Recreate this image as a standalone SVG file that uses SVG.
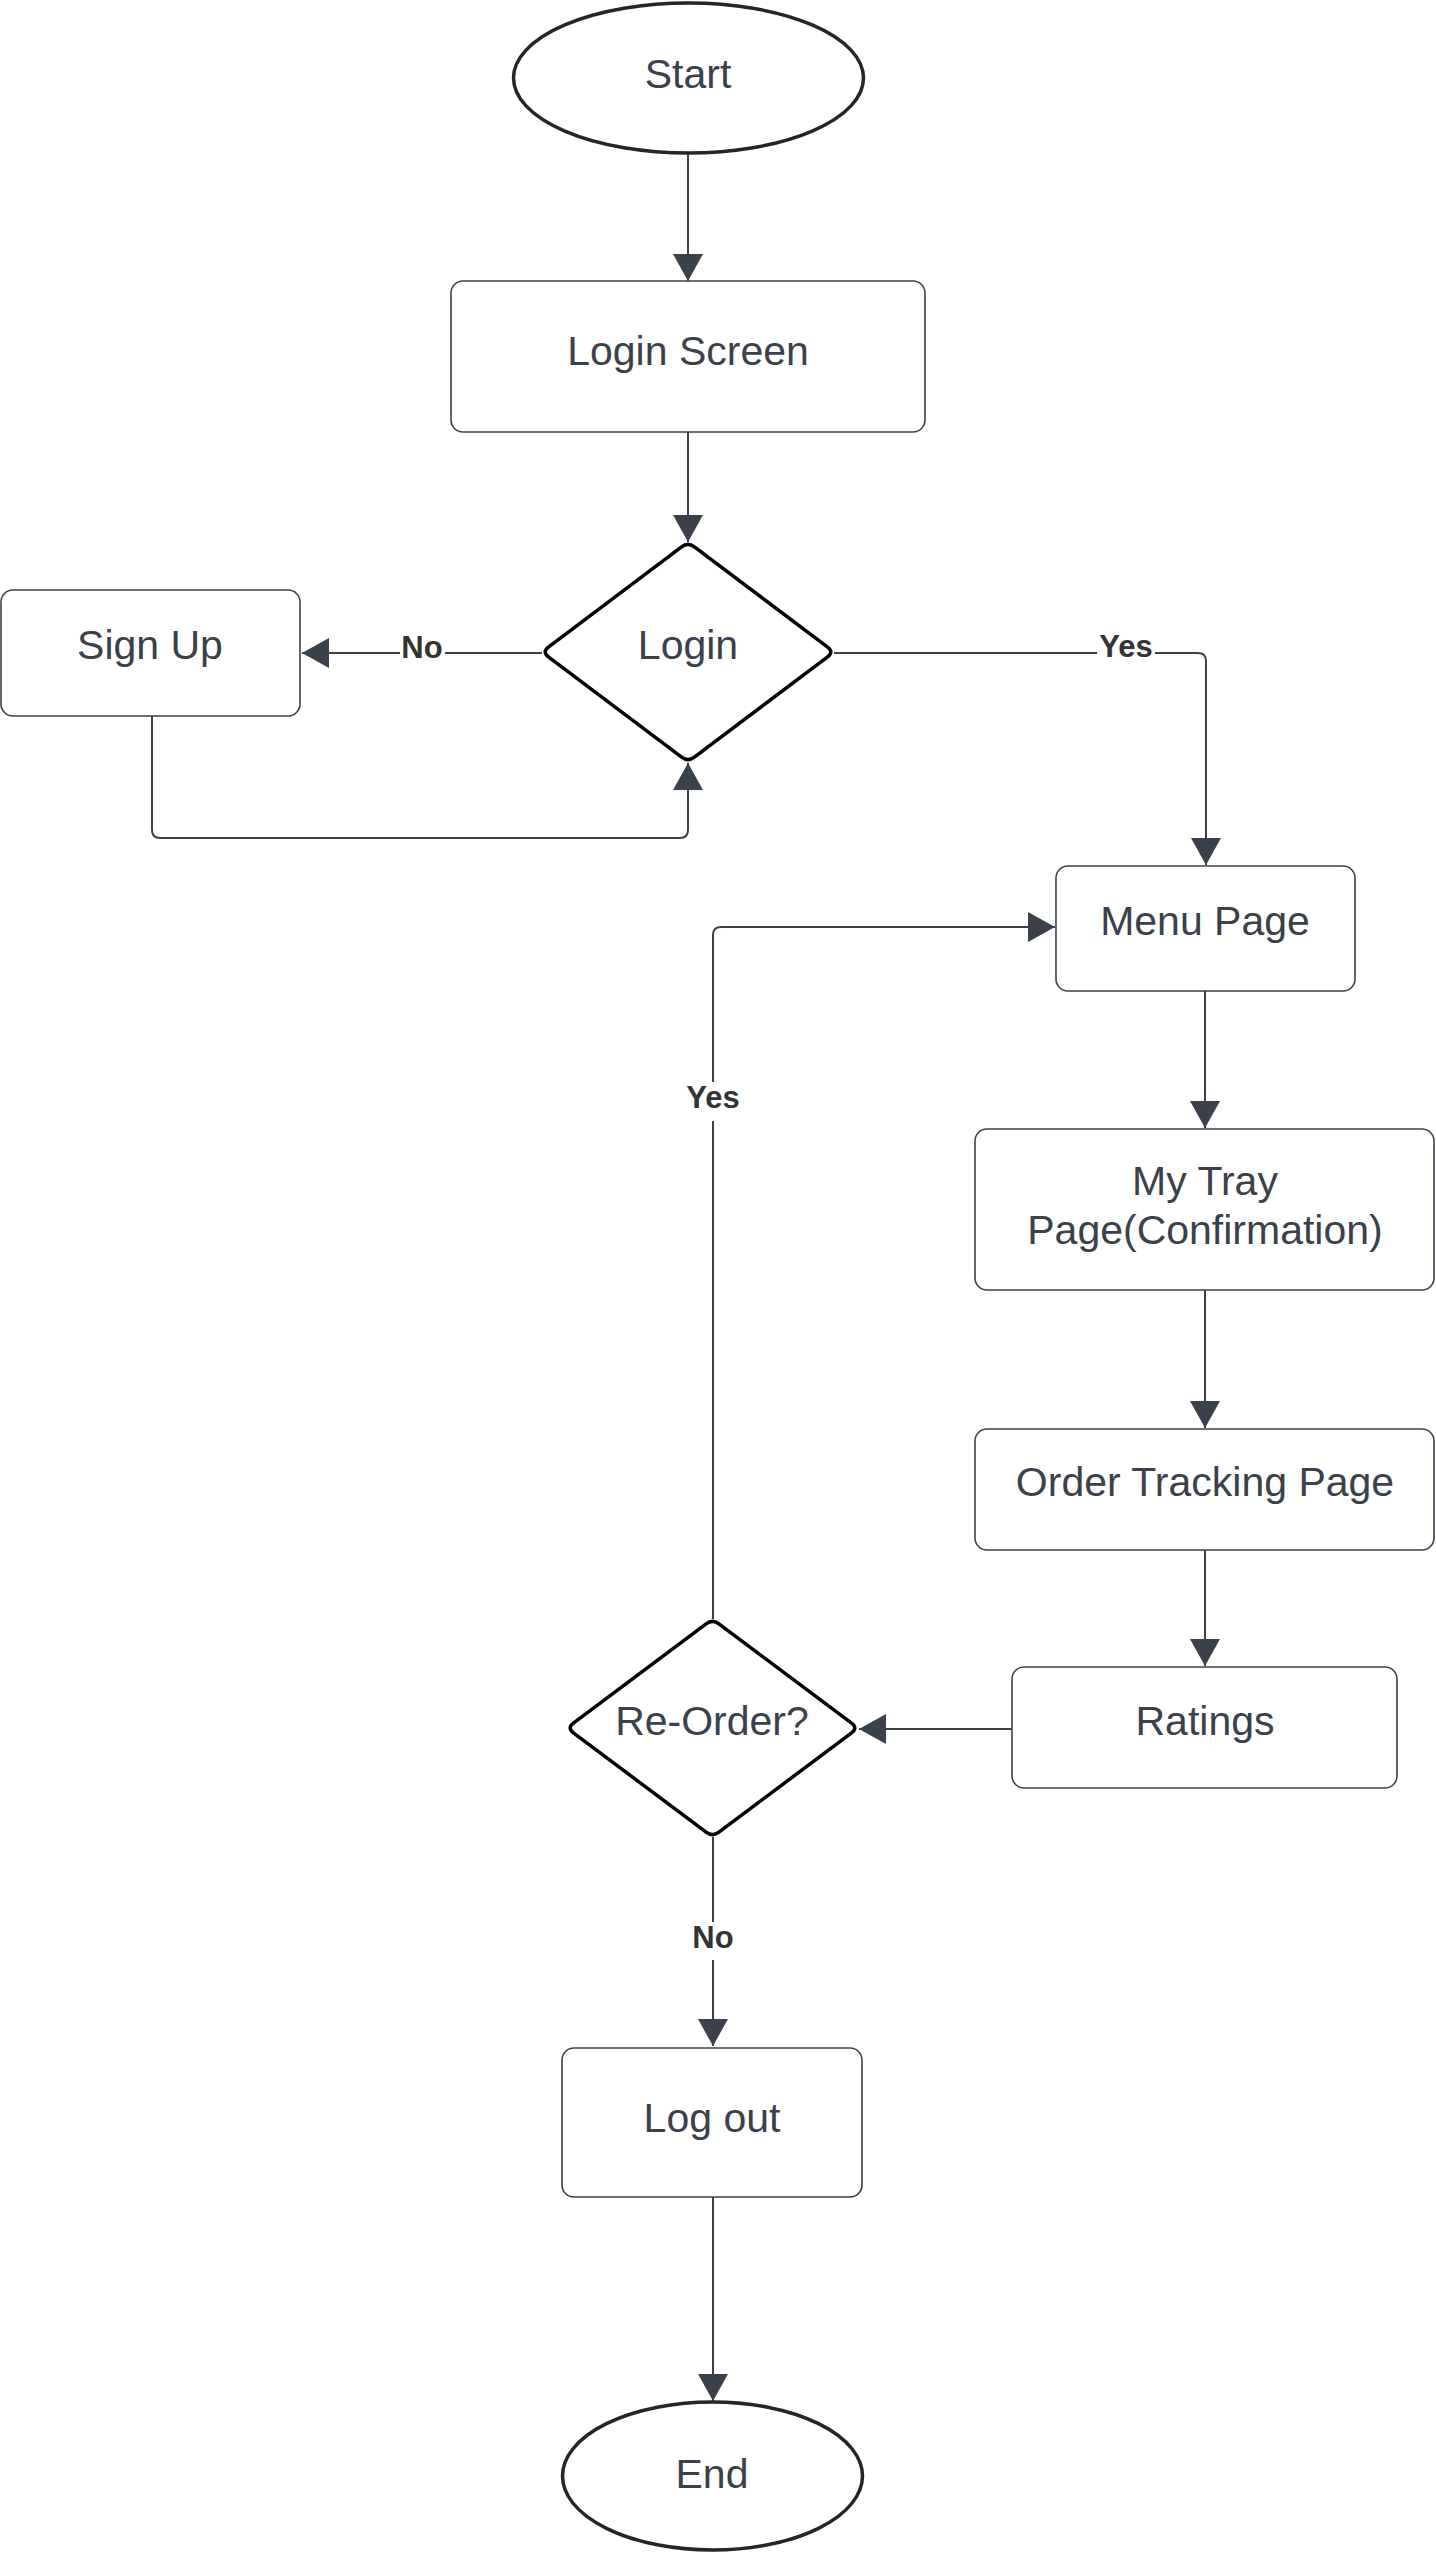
<svg xmlns="http://www.w3.org/2000/svg" width="1436" height="2554" viewBox="0 0 1436 2554">
<style>
.box{fill:#fff;stroke:#3a414a;stroke-width:1.6}
.term{fill:#fff;stroke:#23252a;stroke-width:3.5}
.dec{fill:#fff;stroke:#000;stroke-width:3.5;stroke-linejoin:round}
.t{font-family:"Liberation Sans",Arial,sans-serif;font-size:41px;fill:#3a414a;text-anchor:middle}
.lbl{font-family:"Liberation Sans",Arial,sans-serif;font-size:31px;font-weight:bold;fill:#333;text-anchor:middle}
.c{fill:none;stroke:#3a414a;stroke-width:2;marker-end:url(#ah)}
.bg{fill:#fff}
</style>
<defs>
<marker id="ah" markerUnits="userSpaceOnUse" markerWidth="30" markerHeight="30" viewBox="0 0 27 30" refX="27" refY="15" orient="auto">
<path d="M0 0 L27 15 L0 30 Z" fill="#3a414a"/>
</marker>
</defs>
<g id="connectors">
<path class="c" d="M688 153 V281"/>
<path class="c" d="M688 432 V542"/>
<path class="c" d="M542 653 H302"/>
<path class="c" d="M152 716 V830 Q152 838 160 838 H680 Q688 838 688 830 V763"/>
<path class="c" d="M834 653 H1198 Q1206 653 1206 661 V865"/>
<path class="c" d="M1205 991 V1128"/>
<path class="c" d="M1205 1290 V1428"/>
<path class="c" d="M1205 1550 V1666"/>
<path class="c" d="M1012 1729 H859"/>
<path class="c" d="M713 1619 V935 Q713 927 721 927 H1055"/>
<path class="c" d="M713 1837 V2046"/>
<path class="c" d="M713 2197 V2401"/>
<rect class="bg" x="400" y="630" width="45" height="40"/>
<text class="lbl" x="422" y="658">No</text>
<rect class="bg" x="1097" y="630" width="58" height="40"/>
<text class="lbl" x="1126" y="657">Yes</text>
<rect class="bg" x="684" y="1082" width="58" height="39"/>
<text class="lbl" x="713" y="1108">Yes</text>
<rect class="bg" x="690" y="1922" width="46" height="38"/>
<text class="lbl" x="713" y="1948">No</text>
</g>
<g id="start">
<ellipse class="term" cx="688.5" cy="78" rx="175" ry="75"/>
<text class="t" x="688" y="88">Start</text>
</g>
<g id="login-screen">
<rect class="box" x="451" y="281" width="474" height="151" rx="12"/>
<text class="t" x="688" y="365">Login Screen</text>
</g>
<g id="login">
<path class="dec" d="M694.4 546.8 L827.6 647.2 Q834 652 827.6 656.8 L694.4 757.2 Q688 762 681.6 757.2 L548.4 656.8 Q542 652 548.4 647.2 L681.6 546.8 Q688 542 694.4 546.8 Z"/>
<text class="t" x="688" y="659">Login</text>
</g>
<g id="sign-up">
<rect class="box" x="1" y="590" width="299" height="126" rx="12"/>
<text class="t" x="150" y="659">Sign Up</text>
</g>
<g id="menu-page">
<rect class="box" x="1056" y="866" width="299" height="125" rx="12"/>
<text class="t" x="1205" y="935">Menu Page</text>
</g>
<g id="my-tray">
<rect class="box" x="975" y="1129" width="459" height="161" rx="12"/>
<text class="t" x="1205" y="1195">My Tray</text>
<text class="t" x="1205" y="1244">Page(Confirmation)</text>
</g>
<g id="order-tracking">
<rect class="box" x="975" y="1429" width="459" height="121" rx="12"/>
<text class="t" x="1205" y="1496">Order Tracking Page</text>
</g>
<g id="ratings">
<rect class="box" x="1012" y="1667" width="385" height="121" rx="12"/>
<text class="t" x="1205" y="1735">Ratings</text>
</g>
<g id="re-order">
<path class="dec" d="M718.9 1623.8 L851.6 1723.2 Q858 1728 851.6 1732.8 L718.9 1832.2 Q712.5 1837 706.1 1832.2 L573.4 1732.8 Q567 1728 573.4 1723.2 L706.1 1623.8 Q712.5 1619 718.9 1623.8 Z"/>
<text class="t" x="712" y="1735">Re-Order?</text>
</g>
<g id="log-out">
<rect class="box" x="562" y="2048" width="300" height="149" rx="12"/>
<text class="t" x="712" y="2132">Log out</text>
</g>
<g id="end">
<ellipse class="term" cx="712.5" cy="2476" rx="150" ry="74"/>
<text class="t" x="712" y="2488">End</text>
</g>
</svg>
